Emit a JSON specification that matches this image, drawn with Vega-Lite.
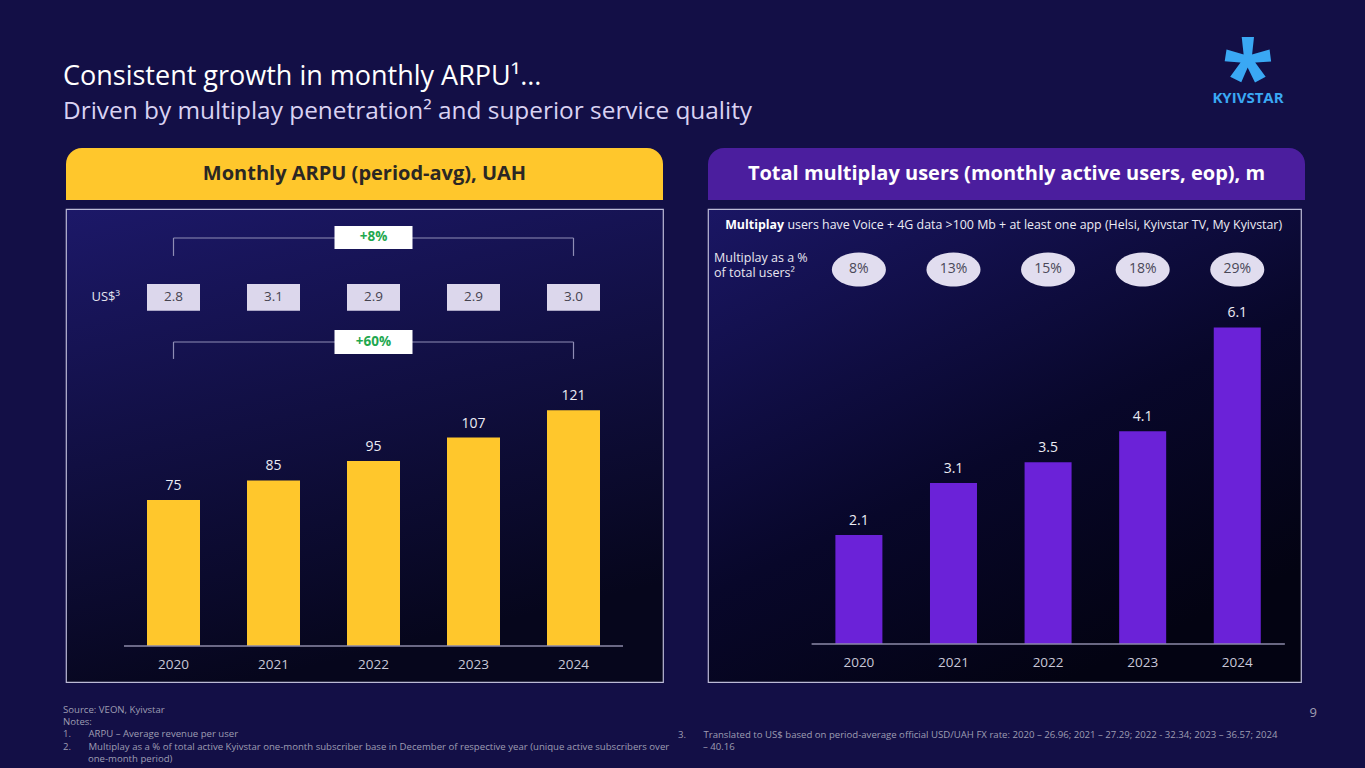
{
  "$schema": "https://vega.github.io/schema/vega-lite/v6.json",
  "background": "#130f46",
  "padding": {"left": 62, "top": 34, "right": 60, "bottom": 20},
  "config": {"view": {"stroke": null}, "font": "Open Sans", "text": {"font": "Open Sans"}, "title": {"font": "Open Sans"}},
  "datasets": {
    "arpu": [
      {"year": "2020", "arpu": 75, "usd": 2.8},
      {"year": "2021", "arpu": 85, "usd": 3.1},
      {"year": "2022", "arpu": 95, "usd": 2.9},
      {"year": "2023", "arpu": 107, "usd": 2.9},
      {"year": "2024", "arpu": 121, "usd": 3.0}
    ],
    "mp": [
      {"year": "2020", "users": 2.1, "share": 0.08},
      {"year": "2021", "users": 3.1, "share": 0.13},
      {"year": "2022", "users": 3.5, "share": 0.15},
      {"year": "2023", "users": 4.1, "share": 0.18},
      {"year": "2024", "users": 6.1, "share": 0.29}
    ],
    "one": [{}]
  },
  "spacing": 8,
  "bounds": "full",
  "vconcat": [
    {
      "spacing": 45,
      "bounds": "flush",
      "hconcat": [
        {
          "width": 597,
          "height": 52,
          "title": {"text": "Consistent growth in monthly ARPU¹...", "subtitle": "Driven by multiplay penetration² and superior service quality", "anchor": "start", "dx": -3, "offset": 24, "fontSize": 27, "fontWeight": "normal", "color": "#ffffff", "subtitleFontSize": 24.4, "subtitleColor": "#d9d2f2", "subtitleFontWeight": "normal", "subtitlePadding": 9, "font": "Open Sans", "subtitleFont": "Open Sans"},
          "data": {"name": "one"},
          "layer": [
            {"mark": {"type": "bar", "color": "#FFC72C", "cornerRadiusTopLeft": 16, "cornerRadiusTopRight": 16}, "encoding": {}},
            {"mark": {"type": "text", "text": "Monthly ARPU (period-avg), UAH", "fontSize": 20, "fontWeight": "bold", "color": "#2b2724"}, "encoding": {}}
          ]
        },
        {
          "width": 597,
          "height": 52,
          "title": {"text": "*", "subtitle": "KYIVSTAR", "anchor": "end", "align": "center", "dx": -57, "offset": 17, "font": "Open Sans", "fontSize": 96, "fontWeight": "bold", "color": "#3aa8f4", "subtitleFont": "Open Sans", "subtitleFontSize": 15, "subtitleFontWeight": "bold", "subtitleColor": "#3aa8f4", "subtitlePadding": -40},
          "data": {"name": "one"},
          "layer": [
            {"mark": {"type": "bar", "color": "#4b1e9e", "cornerRadiusTopLeft": 16, "cornerRadiusTopRight": 16}, "encoding": {}},
            {"mark": {"type": "text", "text": "Total multiplay users (monthly active users, eop), m", "fontSize": 20, "fontWeight": "bold", "color": "#ffffff"}, "encoding": {}}
          ]
        }
      ]
    },
    {
      "spacing": 45,
      "bounds": "flush",
      "hconcat": [
        {
          "width": 597,
          "height": 473,
          "view": {"stroke": "#bcbad6", "strokeWidth": 1.2, "fill": {"expr": "{gradient: 'linear', x1: 0, y1: 0, x2: 0.3, y2: 1, stops: [{offset: 0, color: '#1c1868'}, {offset: 1, color: '#06061c'}]}"}},
          "title": {"text": ["Source: VEON, Kyivstar", "Notes:", "1.\u00a0\u00a0\u00a0\u00a0\u00a0\u00a0\u00a0ARPU – Average revenue per user", "2.\u00a0\u00a0\u00a0\u00a0\u00a0\u00a0\u00a0Multiplay as a % of total active Kyivstar one-month subscriber base in December of respective year (unique active subscribers over", "\u200b\u00a0\u00a0\u00a0\u00a0\u00a0\u00a0\u00a0\u00a0\u00a0\u00a0one-month period)"], "orient": "bottom", "anchor": "start", "offset": 23, "dx": -3, "fontSize": 9.6, "fontWeight": "normal", "color": "#9e9db2", "lineHeight": 12.2},
          "data": {"name": "arpu"},
          "layer": [
            {"mark": {"type": "bar", "color": "#FFC72C"}, "encoding": {
              "x": {"field": "year", "type": "nominal", "scale": {"paddingInner": 0.47, "paddingOuter": 0.72, "align": 0.5625, "round": false}, "axis": null},
              "y": {"field": "arpu", "type": "quantitative", "scale": {"domain": [-18.5, 224.4], "nice": false, "zero": false}, "axis": null},
              "y2": {"datum": 0}}},
            {"mark": {"type": "text", "baseline": "bottom", "dy": -7, "fontSize": 14, "color": "#ececf4"}, "encoding": {
              "x": {"field": "year", "type": "nominal"},
              "y": {"field": "arpu", "type": "quantitative"},
              "text": {"field": "arpu", "type": "quantitative"}}},
            {"mark": {"type": "text", "baseline": "middle", "dy": 19, "fontSize": 13.5, "color": "#c9c8d8"}, "encoding": {
              "x": {"field": "year", "type": "nominal"},
              "y": {"datum": 0},
              "text": {"field": "year", "type": "nominal"}}},
            {"data": {"name": "one"}, "mark": {"type": "rule", "color": "#8c8aa8", "strokeWidth": 1.5, "xOffset": -49.5, "x2Offset": 49.5}, "encoding": {
              "x": {"datum": "2020"}, "x2": {"datum": "2024"}, "y": {"datum": 0}}},
            {"mark": {"type": "bar", "color": "#dcd7ec"}, "encoding": {
              "x": {"field": "year", "type": "nominal"},
              "y": {"datum": 185.9}, "y2": {"datum": 172.1}}},
            {"mark": {"type": "text", "fontSize": 13.5, "color": "#45434f", "baseline": "middle"}, "encoding": {
              "x": {"field": "year", "type": "nominal"},
              "y": {"datum": 179},
              "text": {"field": "usd", "type": "quantitative", "format": ".1f"}}},
            {"data": {"name": "one"}, "mark": {"type": "text", "text": "US$³", "align": "right", "baseline": "middle", "dx": -53.5, "fontSize": 13, "color": "#e4e3ee"}, "encoding": {
              "x": {"datum": "2020"}, "y": {"datum": 179}}},
            {"data": {"name": "one"}, "mark": {"type": "rule", "color": "#8f8db5", "strokeWidth": 1.2}, "encoding": {
              "x": {"datum": "2020"}, "x2": {"datum": "2024"}, "y": {"datum": 209.5}}},
            {"transform": [{"filter": "datum.year == '2020' || datum.year == '2024'"}], "mark": {"type": "rule", "color": "#8f8db5", "strokeWidth": 1.2}, "encoding": {
              "x": {"field": "year", "type": "nominal"}, "y": {"datum": 209.5}, "y2": {"datum": 200.3}}},
            {"data": {"name": "one"}, "mark": {"type": "bar", "color": "#ffffff", "width": 78}, "encoding": {
              "x": {"datum": "2022"}, "y": {"datum": 215.7}, "y2": {"datum": 203.9}}},
            {"data": {"name": "one"}, "mark": {"type": "text", "text": "+8%", "fontWeight": "bold", "fontSize": 13.5, "color": "#1fa84f", "baseline": "middle"}, "encoding": {
              "x": {"datum": "2022"}, "y": {"datum": 209.8}}},
            {"data": {"name": "one"}, "mark": {"type": "rule", "color": "#8f8db5", "strokeWidth": 1.2}, "encoding": {
              "x": {"datum": "2020"}, "x2": {"datum": "2024"}, "y": {"datum": 156.1}}},
            {"transform": [{"filter": "datum.year == '2020' || datum.year == '2024'"}], "mark": {"type": "rule", "color": "#8f8db5", "strokeWidth": 1.2}, "encoding": {
              "x": {"field": "year", "type": "nominal"}, "y": {"datum": 156.1}, "y2": {"datum": 147.4}}},
            {"data": {"name": "one"}, "mark": {"type": "bar", "color": "#ffffff", "width": 78}, "encoding": {
              "x": {"datum": "2022"}, "y": {"datum": 162.3}, "y2": {"datum": 150.0}}},
            {"data": {"name": "one"}, "mark": {"type": "text", "text": "+60%", "fontWeight": "bold", "fontSize": 13.5, "color": "#1fa84f", "baseline": "middle"}, "encoding": {
              "x": {"datum": "2022"}, "y": {"datum": 156.1}}}
          ]
        },
        {
          "width": 593,
          "height": 473,
          "view": {"stroke": "#bcbad6", "strokeWidth": 1.2, "fill": {"expr": "{gradient: 'linear', x1: 0, y1: 0, x2: 0.6, y2: 1, stops: [{offset: 0, color: '#1a1664'}, {offset: 0.6, color: '#08072a'}, {offset: 1, color: '#030312'}]}"}},
          "title": {"text": ["3.\u00a0\u00a0\u00a0\u00a0\u00a0\u00a0\u00a0Translated to US$ based on period-average official USD/UAH FX rate: 2020 – 26.96; 2021 – 27.29; 2022 - 32.34; 2023 – 36.57; 2024", "\u200b\u00a0\u00a0\u00a0\u00a0\u00a0\u00a0\u00a0\u00a0\u00a0\u00a0– 40.16"], "orient": "bottom", "anchor": "start", "offset": 10, "dx": -30, "fontSize": 9.6, "fontWeight": "normal", "color": "#9e9db2", "lineHeight": 12.2},
          "data": {"name": "mp"},
          "layer": [
            {"mark": {"type": "bar", "color": "#6B22D8"}, "encoding": {
              "x": {"field": "year", "type": "nominal", "scale": {"paddingInner": 0.503, "paddingOuter": 0.886, "align": 0.76, "round": false}, "axis": null},
              "y": {"field": "users", "type": "quantitative", "scale": {"domain": [-0.732, 8.381], "nice": false, "zero": false}, "axis": null},
              "y2": {"datum": 0}}},
            {"mark": {"type": "text", "baseline": "bottom", "dy": -7, "fontSize": 14, "color": "#ececf4"}, "encoding": {
              "x": {"field": "year", "type": "nominal"},
              "y": {"field": "users", "type": "quantitative"},
              "text": {"field": "users", "type": "quantitative", "format": ".1f"}}},
            {"mark": {"type": "text", "baseline": "middle", "dy": 19, "fontSize": 13.5, "color": "#c9c8d8"}, "encoding": {
              "x": {"field": "year", "type": "nominal"},
              "y": {"datum": 0},
              "text": {"field": "year", "type": "nominal"}}},
            {"data": {"name": "one"}, "mark": {"type": "rule", "color": "#8c8aa8", "strokeWidth": 1.5, "xOffset": -47.3, "x2Offset": 47.6}, "encoding": {
              "x": {"datum": "2020"}, "x2": {"datum": "2024"}, "y": {"datum": 0}}},
            {"mark": {"type": "point", "shape": "M-1,0A1,0.63,0,1,0,1,0A1,0.63,0,1,0,-1,0Z", "size": 2916, "filled": true, "color": "#e1ddef", "opacity": 1, "strokeWidth": 0}, "encoding": {
              "x": {"field": "year", "type": "nominal"},
              "y": {"datum": 7.216}}},
            {"mark": {"type": "text", "fontSize": 14, "color": "#4a4858", "baseline": "middle"}, "encoding": {
              "x": {"field": "year", "type": "nominal"},
              "y": {"datum": 7.216},
              "text": {"field": "share", "type": "quantitative", "format": ".0%"}}},
            {"data": {"name": "one"}, "mark": {"type": "text", "text": ["Multiplay as a %", "of total users²"], "align": "left", "baseline": "middle", "dx": -144.8, "fontSize": 12.5, "lineHeight": 15, "color": "#e8e7f0"}, "encoding": {
              "x": {"datum": "2020"}, "y": {"datum": 7.437}}},
            {"data": {"name": "one"}, "mark": {"type": "text", "text": "Multiplay", "align": "right", "baseline": "middle", "dx": -74.8, "fontSize": 12.4, "fontWeight": "bold", "color": "#ffffff"}, "encoding": {
              "x": {"datum": "2020"}, "y": {"datum": 8.07}}},
            {"data": {"name": "one"}, "mark": {"type": "text", "text": "users have Voice + 4G data >100 Mb + at least one app (Helsi, Kyivstar TV, My Kyivstar)", "align": "left", "baseline": "middle", "dx": -71.5, "fontSize": 12.4, "color": "#ecebf4"}, "encoding": {
              "x": {"datum": "2020"}, "y": {"datum": 8.07}}},
            {"data": {"name": "one"}, "mark": {"type": "text", "text": "9", "align": "center", "baseline": "middle", "dx": 76, "fontSize": 13, "color": "#a09fb2"}, "encoding": {
              "x": {"datum": "2024"}, "y": {"datum": -1.33}}}
          ]
        }
      ]
    }
  ]
}
